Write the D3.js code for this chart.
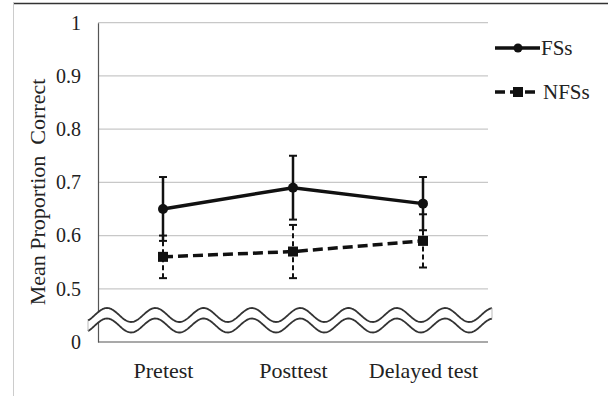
<!DOCTYPE html>
<html>
<head>
<meta charset="utf-8">
<script src="https://cdn.jsdelivr.net/npm/d3@7"></script>
<style>
  body { margin: 0; background: #fff; }
  svg text { font-family: "Liberation Serif", "DejaVu Serif", serif; }
</style>
</head>
<body>
<svg width="608" height="396"></svg>
<script>
var categories = ["Pretest", "Posttest", "Delayed test"];
var fsMeans = [0.65, 0.69, 0.66];
var fsErrors = [0.06, 0.06, 0.05];
var nfsMeans = [0.56, 0.57, 0.59];
var nfsErrors = [0.04, 0.05, 0.05];
var yTicks = [0.4, 0.5, 0.6, 0.7, 0.8, 0.9, 1];
var yTickLabels = ["0", "0.5", "0.6", "0.7", "0.8", "0.9", "1"];

var svg = d3.select("svg");

// frame of the figure
svg.append("line").attr("x1", 13).attr("x2", 608).attr("y1", 3.5).attr("y2", 3.5)
  .style("stroke", "#333").style("stroke-width", 1.5);
svg.append("line").attr("x1", 13.5).attr("x2", 13.5).attr("y1", 3).attr("y2", 396)
  .style("stroke", "#ccc").style("stroke-width", 1);

var xScale = d3.scalePoint().domain(categories).range([98, 488]).padding(0.5);
var yScale = d3.scaleLinear().domain([0.4, 1]).range([342, 22.7]);

// gridlines
svg.append("g").selectAll("line")
  .data(yTicks.slice(1)).enter()
  .append("line")
  .attr("x1", 98).attr("x2", 488)
  .attr("y1", d => yScale(d)).attr("y2", d => yScale(d))
  .style("stroke", "#c8c8c8").style("stroke-width", 1.2);

// axes
var yAxis = d3.axisLeft(yScale).tickValues(yTicks)
  .tickFormat((d, i) => yTickLabels[i]).tickSize(0).tickPadding(17);
var gy = svg.append("g").attr("transform", "translate(98,0)").call(yAxis);
gy.attr("font-family", null);
gy.select(".domain").style("stroke", "#555").style("stroke-width", 1.2);
gy.selectAll("text").style("font-size", "20px").style("fill", "#222");

var xAxis = d3.axisBottom(xScale).tickSize(0).tickPadding(20);
var gx = svg.append("g").attr("transform", "translate(0,342)").call(xAxis);
gx.attr("font-family", null);
gx.select(".domain").attr("d", "M98,0H488").style("stroke", "#555").style("stroke-width", 1.2);
gx.selectAll("text").style("font-size", "22px").style("fill", "#222");

// axis break (wavy band)
var period = 48.3;
var xs = d3.range(88, 492.1, 1);
var upper = xs.map(x => [x, 315 - 7 * Math.cos(2 * Math.PI * (x - 107) / period)]);
var lower = xs.map(x => [x, 325.5 - 7 * Math.cos(2 * Math.PI * (x - 107) / period)]);
var line = d3.line();
svg.append("path")
  .attr("d", line(upper.concat(lower.slice().reverse())) + "Z")
  .style("fill", "#fff").style("stroke", "none");
[upper, lower].forEach(function(pts) {
  svg.append("path").attr("d", line(pts))
    .style("fill", "none").style("stroke", "#333").style("stroke-width", 1.8);
});
[[upper[0], lower[0]], [upper[upper.length - 1], lower[lower.length - 1]]].forEach(function(p) {
  svg.append("line").attr("x1", p[0][0]).attr("y1", p[0][1])
    .attr("x2", p[1][0]).attr("y2", p[1][1])
    .style("stroke", "#bbb").style("stroke-width", 1);
});

// error bars
function errorBars(means, errs, dash, width) {
  var g = svg.append("g");
  categories.forEach(function(c, i) {
    var x = xScale(c);
    var lo = yScale(means[i] - errs[i]), hi = yScale(means[i] + errs[i]);
    g.append("line").attr("x1", x).attr("x2", x).attr("y1", lo).attr("y2", hi)
      .style("stroke", "#111").style("stroke-width", width).style("stroke-dasharray", dash);
    [lo, hi].forEach(function(y) {
      g.append("line").attr("x1", x - 4).attr("x2", x + 4).attr("y1", y).attr("y2", y)
        .style("stroke", "#111").style("stroke-width", 2);
    });
  });
}
errorBars(nfsMeans, nfsErrors, "5,3", 2);
errorBars(fsMeans, fsErrors, null, 2.5);

// series lines
var seriesLine = d3.line().x((d, i) => xScale(categories[i])).y(d => yScale(d));
svg.append("path").attr("d", seriesLine(nfsMeans))
  .style("fill", "none").style("stroke", "#111").style("stroke-width", 3.5)
  .style("stroke-dasharray", "10,5");
svg.append("path").attr("d", seriesLine(fsMeans))
  .style("fill", "none").style("stroke", "#111").style("stroke-width", 3.5);

svg.append("g").selectAll("rect").data(nfsMeans).enter().append("rect")
  .attr("x", (d, i) => xScale(categories[i]) - 5)
  .attr("y", d => yScale(d) - 5)
  .attr("width", 10).attr("height", 10).style("fill", "#111");
svg.append("g").selectAll("circle").data(fsMeans).enter().append("circle")
  .attr("cx", (d, i) => xScale(categories[i]))
  .attr("cy", d => yScale(d)).attr("r", 5).style("fill", "#111");

// y title
svg.append("text")
  .attr("transform", "translate(45,192) rotate(-90)")
  .attr("text-anchor", "middle")
  .style("font-size", "22px").style("fill", "#222")
  .style("white-space", "pre")
  .text("Mean Proportion  Correct");

// legend
var legend = svg.append("g");
legend.append("line").attr("x1", 495).attr("x2", 540).attr("y1", 48).attr("y2", 48)
  .style("stroke", "#111").style("stroke-width", 3.5);
legend.append("circle").attr("cx", 518).attr("cy", 48).attr("r", 4.5).style("fill", "#111");
legend.append("text").attr("x", 541).attr("y", 55).style("font-size", "21px")
  .style("fill", "#222").text("FSs");
legend.append("line").attr("x1", 495).attr("x2", 539).attr("y1", 92).attr("y2", 92)
  .style("stroke", "#111").style("stroke-width", 3.5).style("stroke-dasharray", "10,5");
legend.append("rect").attr("x", 513).attr("y", 87).attr("width", 10).attr("height", 10)
  .style("fill", "#111");
legend.append("text").attr("x", 543).attr("y", 99).style("font-size", "21px")
  .style("fill", "#222").text("NFSs");
</script>
</body>
</html>
